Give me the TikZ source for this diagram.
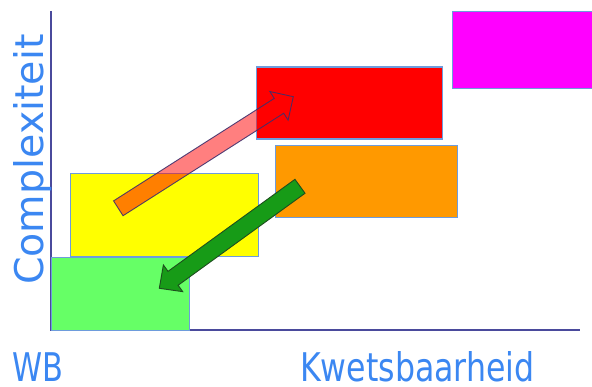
\documentclass[tikz,border=0pt]{standalone}
\usepackage{fontspec}
\usepackage{graphicx}
\usetikzlibrary{calc}
\newfontfamily\labelfont{DejaVu Sans}
\definecolor{axisblue}{HTML}{4A4A9C}
\definecolor{edgeblue}{HTML}{6E9CDC}
\definecolor{textblue}{HTML}{3B87F2}
\definecolor{boxgreen}{HTML}{66FF66}
\definecolor{boxyellow}{HTML}{FFFF00}
\definecolor{boxred}{HTML}{FF0000}
\definecolor{boxorange}{HTML}{FF9900}
\definecolor{boxmagenta}{HTML}{FF00FF}
\definecolor{arrowgreen}{HTML}{179B17}
\definecolor{arrowedge}{HTML}{3E2F6C}
\definecolor{greenedge}{HTML}{1E4E1E}

% block arrow: #1 style, #2 tail coordinate, #3 tip coordinate,
% #4 shaft half-width, #5 head length, #6 head half-width
\newcommand\blockarrow[6]{%
  \coordinate (#2-neck) at ($(#3)!#5!(#2)$);
  \draw[#1] ($(#2)!#4!90:(#3)$) -- ($(#2-neck)!#4!90:(#3)$)
    -- ($(#2-neck)!#6!90:(#3)$) -- (#3)
    -- ($(#2-neck)!#6!-90:(#3)$) -- ($(#2-neck)!#4!-90:(#3)$)
    -- ($(#2)!#4!-90:(#3)$) -- cycle;
}

\begin{document}
\begin{tikzpicture}[x=1pt,y=-1pt,
  box/.style={draw=edgeblue, line width=1.3pt, anchor=north west, inner sep=0pt},
  axislabel/.style={text=textblue, font=\labelfont\fontsize{39.5}{47}\selectfont, inner sep=0pt},
  axisline/.style={draw=axisblue, line width=1.2pt},
  risearrow/.style={fill=boxred, fill opacity=0.5, draw=arrowedge, draw opacity=0.9, line width=0.9pt, line join=miter},
  fallarrow/.style={fill=arrowgreen, draw=greenedge, line width=0.9pt, line join=miter}]

\clip (0,0) rectangle (592,387);
\fill[white] (0,0) rectangle (592,387);

% axes
\coordinate (origin) at (51,330);
\coordinate (ytop) at (51,11);
\coordinate (xend) at (580,330);
\draw[axisline] (ytop) -- (origin) -- (xend);

% coloured blocks
\node[box, fill=boxyellow, minimum width=188pt, minimum height=83pt] (yellowbox) at (70,173) {};
\node[box, fill=boxgreen, minimum width=138pt, minimum height=73pt] (greenbox) at (51,257) {};
\node[box, fill=boxred, minimum width=186pt, minimum height=72pt] (redbox) at (256,66.5) {};
\node[box, fill=boxorange, minimum width=182pt, minimum height=72pt] (orangebox) at (275,145) {};
\node[box, fill=boxmagenta, minimum width=160pt, minimum height=77pt] (magentabox) at (452,11) {};

% arrows
\coordinate (risetail) at (118.3,208.3);
\coordinate (risetip) at (293.3,96.7);
\blockarrow{risearrow}{risetail}{risetip}{8.8pt}{17pt}{17pt}

\coordinate (falltail) at (300,186.3);
\coordinate (falltip) at (159.3,288.3);
\blockarrow{fallarrow}{falltail}{falltip}{8.6pt}{17pt}{16.5pt}

% axis labels
\node[axislabel, rotate=90, anchor=base west] (ylabel) at (43.5,285) {Complexiteit};
\node[axislabel, anchor=base west] (origlabel) at (12.5,381.5) {\scalebox{0.77}[1]{WB}};
\node[axislabel, anchor=base west] (xlabel) at (300,381.5) {\scalebox{0.80}[1]{Kwetsbaarheid}};
\end{tikzpicture}
\end{document}
